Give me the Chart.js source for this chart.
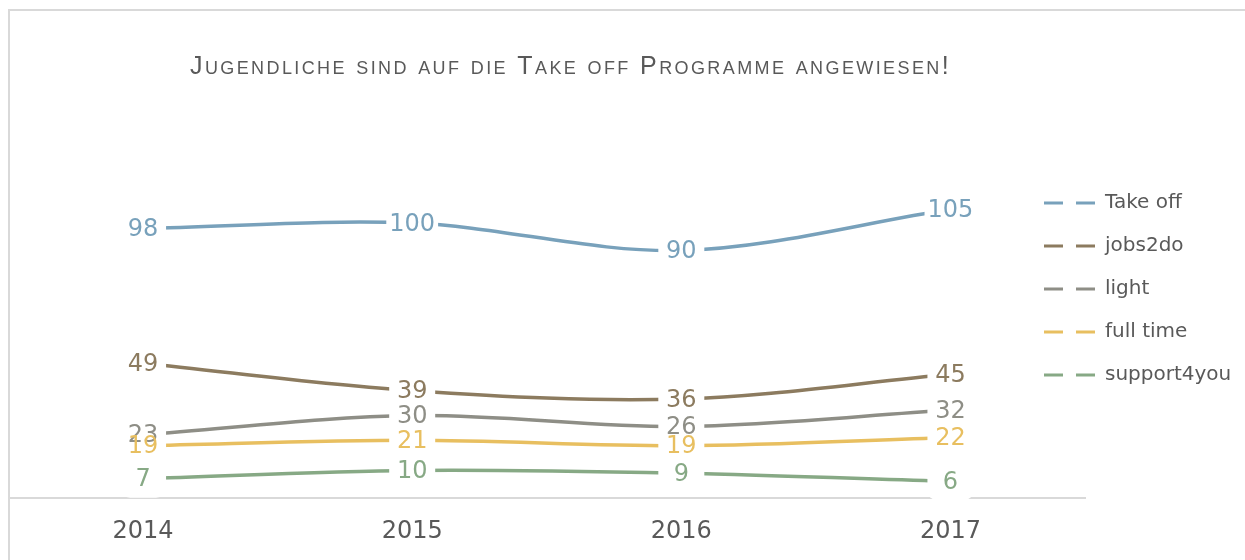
<!DOCTYPE html>
<html>
<head>
<meta charset="utf-8">
<script src="https://cdn.jsdelivr.net/npm/chart.js@4"></script>
<style>
  html, body { margin: 0; padding: 0; background: #fff; }
  #wrap { width: 1245px; height: 560px; position: relative; }
</style>
</head>
<body>
<div id="wrap"><canvas id="chart"></canvas></div>
<script>
// values
const years = ['2014', '2015', '2016', '2017'];
const takeOff = [98, 100, 90, 105];
const jobs2do = [49, 39, 36, 45];
const light = [23, 30, 26, 32];
const fullTime = [19, 21, 19, 22];
const support4you = [7, 10, 9, 6];

const titleText = 'Jugendliche sind auf die Take off Programme angewiesen!';

const textGrey = '#595959';
const frameGrey = '#d9d9d9';

function series(label, data, color) {
  return {
    label: label,
    data: data,
    borderColor: color,
    backgroundColor: color,
    borderWidth: 3.5,
    pointRadius: 0,
    tension: 0.33,
    fill: false
  };
}

// frame + title
const framePlugin = {
  id: 'frame',
  beforeDraw(chart) {
    const ctx = chart.ctx;
    ctx.save();
    ctx.strokeStyle = frameGrey;
    ctx.lineWidth = 2;
    ctx.beginPath();
    ctx.moveTo(9, chart.height);
    ctx.lineTo(9, 10);
    ctx.lineTo(chart.width, 10);
    ctx.stroke();

    ctx.fillStyle = textGrey;
    ctx.font = 'small-caps 25px "Liberation Sans", sans-serif';
    ctx.letterSpacing = '2.4px';
    ctx.textBaseline = 'alphabetic';
    ctx.textAlign = 'left';
    ctx.fillText(titleText, 190, 74);
    ctx.restore();
  },
  afterLayout(chart) {
    // legend sits a bit over the right end of the plot, like the original
    const lg = chart.legend;
    lg.left = 1044 - lg.options.labels.padding;
    lg.top = 203 - 10 - lg.options.labels.padding;
  }
};

// value labels with a white box behind them
const valueLabels = {
  id: 'valueLabels',
  afterDatasetsDraw(chart) {
    const ctx = chart.ctx;
    ctx.save();
    ctx.font = '24px "DejaVu Sans", sans-serif';
    ctx.textAlign = 'center';
    ctx.textBaseline = 'middle';
    const items = [];
    chart.data.datasets.forEach((ds, i) => {
      const meta = chart.getDatasetMeta(i);
      meta.data.forEach((pt, j) => {
        items.push({ x: pt.x, y: pt.y, text: String(ds.data[j]), color: ds.borderColor });
      });
    });
    ctx.fillStyle = '#fff';
    items.forEach(it => {
      const w = Math.max(ctx.measureText(it.text).width + 6, 46);
      ctx.beginPath();
      ctx.roundRect(it.x - w / 2, it.y - 19, w, 38, 10);
      ctx.fill();
    });
    items.forEach(it => {
      ctx.fillStyle = it.color;
      ctx.fillText(it.text, it.x, it.y + 1.5);
    });
    ctx.restore();
  }
};

const ctx = document.getElementById('chart').getContext('2d');
const chart = new Chart(ctx, {
  type: 'line',
  data: {
    labels: years,
    datasets: [
      series('Take off', takeOff, '#78a1bb'),
      series('jobs2do', jobs2do, '#8c7b5f'),
      series('light', light, '#8e8e86'),
      series('full time', fullTime, '#e8bf60'),
      series('support4you', support4you, '#87a985')
    ]
  },
  options: {
    responsive: true,
    maintainAspectRatio: false,
    animation: false,
    layout: {
      padding: { top: 168, left: 8.5, right: 0, bottom: 0 }
    },
    scales: {
      x: {
        offset: true,
        grid: { display: false, drawTicks: false },
        border: { display: true, color: frameGrey, width: 2 },
        ticks: {
          color: textGrey,
          padding: 19,
          font: { family: '"DejaVu Sans", sans-serif', size: 24 }
        },
        afterFit(scale) {
          scale.height = 62;
        }
      },
      y: {
        display: false,
        min: 0,
        max: 120
      }
    },
    plugins: {
      title: { display: false },
      tooltip: { enabled: false },
      legend: {
        position: 'right',
        align: 'start',
        maxWidth: 160,
        labels: {
          color: textGrey,
          font: { family: '"DejaVu Sans", sans-serif', size: 20 },
          usePointStyle: true,
          pointStyle: 'line',
          pointStyleWidth: 51,
          padding: 23,
          generateLabels(chart) {
            const items = Chart.defaults.plugins.legend.labels.generateLabels(chart);
            items.forEach(it => {
              it.lineDash = [19, 13];
              it.lineWidth = 3;
            });
            return items;
          }
        }
      }
    }
  },
  plugins: [framePlugin, valueLabels]
});
</script>
</body>
</html>
